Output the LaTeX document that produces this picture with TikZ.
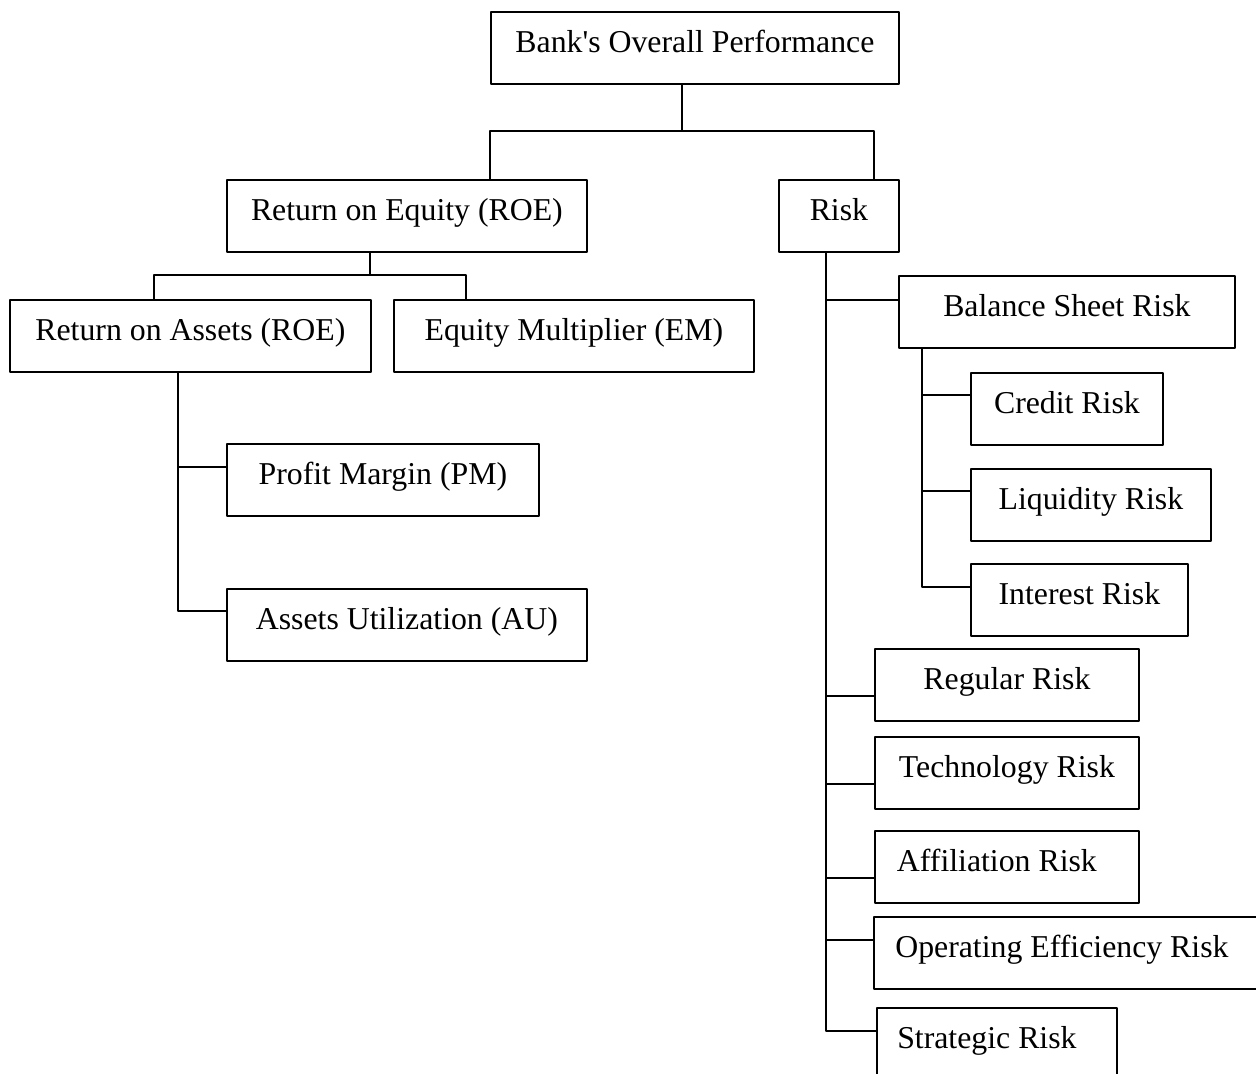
\documentclass[tikz,border=0pt]{standalone}
\usepackage{fontspec}
\setmainfont{Liberation Serif}

\tikzset{box/.style={draw,anchor=north west,inner xsep=0pt,inner ysep=0pt,
    text height=20.5pt,text depth=15.5pt},
  bw/.style={minimum width=#1*0.5pt}}

\begin{document}
\begin{tikzpicture}[x=0.5pt,y=-0.5pt,line cap=round,line join=round,line width=0.9pt,
  font=\fontsize{15.9}{19}\selectfont]
\useasboundingbox (0,0) rectangle (1256,1073);
\clip (0,0) rectangle (1256,1073);
% boxes
\node[box,bw=408] (bop) at (490,11) {Bank\textquotesingle s Overall Performance};
\node[box,bw=360] (roe) at (226,179) {Return on Equity (ROE)};
\node[box,bw=120] (risk) at (778,179) {Risk};
\node[box,bw=361] (roa) at (9,299) {Return on Assets (ROE)};
\node[box,bw=360] (em) at (393,299) {Equity Multiplier (EM)};
\node[box,bw=312] (pm) at (226,443) {Profit Margin (PM)};
\node[box,bw=360] (au) at (226,588) {Assets Utilization (AU)};
\node[box,bw=336] (bs) at (898,275) {Balance Sheet Risk};
\node[box,bw=192] (cr) at (970,372) {Credit Risk};
\node[box,bw=240] (lr) at (970,468) {Liquidity Risk};
\node[box,bw=217] (ir) at (970,563) {Interest Risk};
\node[box,bw=264] (rr) at (874,648) {Regular Risk};
\node[box,bw=264] (tr) at (874,736) {Technology Risk};
\node[box,bw=264] (ar) at (874,830) {Affiliation Risk\kern10pt};
\node[box,bw=420] (oe) at (873,916) {Operating Efficiency Risk\kern22pt};
\node[box,bw=240] (sr) at (876,1007) {Strategic Risk\kern10pt};
% top level
\coordinate (t1) at (682,131);
\coordinate (t2) at (490,131);
\coordinate (t3) at (874,131);
\draw (bop.south -| t1) -- (t1);
\draw (roe.north -| t2) -- (t2) -- (t3) -- (risk.north -| t3);
% ROE branch
\coordinate (e1) at (370,275);
\coordinate (e2) at (154,275);
\coordinate (e3) at (466,275);
\draw (roe.south -| e1) -- (e1);
\draw (roa.north -| e2) -- (e2) -- (e3) -- (em.north -| e3);
\coordinate (a1) at (178,467);
\coordinate (a2) at (178,611);
\draw (roa.south -| a1) -- (a2) -- (a2 -| au.west);
\draw (a1) -- (a1 -| pm.west);
% risk branch
\coordinate (k1) at (826,1031);
\draw (risk.south -| k1) -- (k1) -- (k1 -| sr.west);
\foreach \n/\y in {bs/300,rr/696,tr/784,ar/878,oe/940}{
  \coordinate (k\n) at (826,\y);
  \draw (k\n) -- (k\n -| \n.west);
}
\coordinate (b1) at (922,587);
\draw (bs.south -| b1) -- (b1) -- (b1 -| ir.west);
\foreach \n/\y in {cr/395,lr/491}{
  \coordinate (b\n) at (922,\y);
  \draw (b\n) -- (b\n -| \n.west);
}
\end{tikzpicture}
\end{document}
